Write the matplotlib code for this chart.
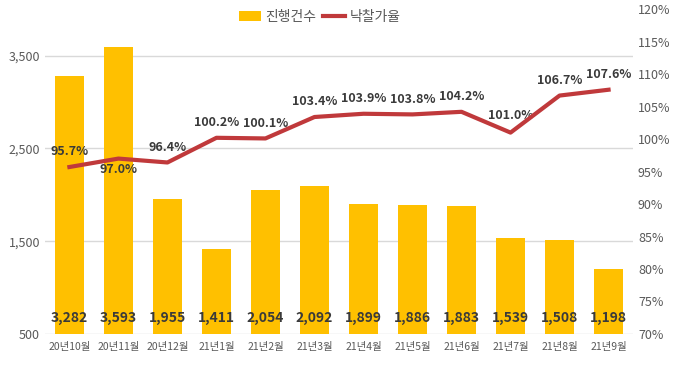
import matplotlib.pyplot as plt
import numpy as np

plt.rcParams['font.family'] = ['Noto Sans CJK KR', 'DejaVu Sans']

months = ['20년10월', '20년11월', '20년12월', '21년1월', '21년2월', '21년3월',
          '21년4월', '21년5월', '21년6월', '21년7월', '21년8월', '21년9월']
counts = [3282, 3593, 1955, 1411, 2054, 2092, 1899, 1886, 1883, 1539, 1508, 1198]
rates = [95.7, 97.0, 96.4, 100.2, 100.1, 103.4, 103.9, 103.8, 104.2, 101.0, 106.7, 107.6]
# label offset in points: above (+) or below (-) the line
label_dy = [11, -8, 11, 11, 11, 11, 11, 11, 11, 12, 11, 11]

BAR = '#FFC000'
LINE = '#C0393B'
GRAY = '#595959'

fig = plt.figure(figsize=(6.8, 3.67), dpi=100)
ax = fig.add_axes([0.066, 0.09, 0.865, 0.885])
ax2 = ax.twinx()

x = np.arange(len(months))
bars = ax.bar(x, counts, width=0.6, color=BAR, zorder=2, label='진행건수')
ax.set_ylim(500, 4000)
ax.set_yticks([500, 1500, 2500, 3500])
ax.set_yticklabels(['{:,}'.format(v) for v in [500, 1500, 2500, 3500]])
ax.set_xlim(-0.5, len(months) - 0.5)
ax.set_xticks(x)
ax.set_xticklabels(months)
ax.grid(axis='y', color='#D9D9D9', linewidth=1, zorder=0)
ax.set_axisbelow(True)

for xi, c in zip(x, counts):
    ax.text(xi, 670, '{:,}'.format(c), ha='center', va='center',
            fontsize=10, fontweight='bold', color='#3A3A3A', zorder=3)

ax2.plot(x, rates, color=LINE, linewidth=3, zorder=4, label='낙찰가율')
ax2.set_ylim(70, 120)
ax2.set_yticks(np.arange(70, 121, 5))
ax2.set_yticklabels(['{}%'.format(v) for v in range(70, 121, 5)])
for xi, r, dy in zip(x, rates, label_dy):
    ax2.annotate('{:.1f}%'.format(r), (xi, r), xytext=(0, dy), textcoords='offset points',
                 ha='center', va='center', fontsize=9, fontweight='bold', color='#3A3A3A')

for a in (ax, ax2):
    for s in a.spines.values():
        s.set_visible(False)
    a.tick_params(length=0, colors=GRAY, labelsize=9)
ax.tick_params(axis='x', labelsize=7.5, pad=6)

h1, l1 = ax.get_legend_handles_labels()
h2, l2 = ax2.get_legend_handles_labels()
fig.legend(h1 + h2, l1 + l2, loc='center', bbox_to_anchor=(0.47, 0.955), ncol=2,
           frameon=False, fontsize=10, handlelength=1.6, handletextpad=0.3,
           columnspacing=0.5, labelcolor=GRAY)

fig.savefig('out.png', dpi=100)
